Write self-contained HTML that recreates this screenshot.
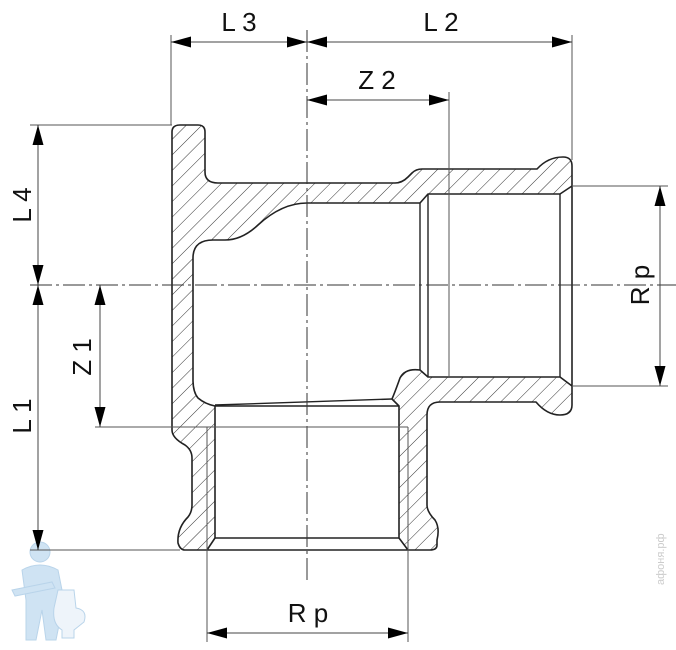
<!DOCTYPE html>
<html><head><meta charset="utf-8"><style>
html,body{margin:0;padding:0;background:#fff;}
svg{display:block;}
text{font-family:"Liberation Sans",sans-serif;font-size:26px;fill:#111;}
</style></head><body>
<svg width="676" height="650" viewBox="0 0 676 650" xmlns="http://www.w3.org/2000/svg">
<defs>
<pattern id="h" patternUnits="userSpaceOnUse" width="11" height="11" patternTransform="rotate(45)">
<line x1="0" y1="0" x2="0" y2="11" stroke="#333" stroke-width="1"/>
</pattern>
<marker id="a" viewBox="0 0 20 11" refX="20" refY="5.5" markerWidth="20" markerHeight="11" markerUnits="userSpaceOnUse" orient="auto-start-reverse">
<path d="M0,0 L20,5.5 L0,11 Z" fill="#000"/>
</marker>
</defs>

<g fill="#cfe3f3" stroke="#b9d4ea" stroke-width="1">
<circle cx="40" cy="552" r="10"/>
<path d="M22,570 q18,-10 36,0 l6,30 l-8,40 h-10 l-4,-30 l-6,30 h-10 l0,-40 z"/>
<path d="M12,590 l40,-8 l3,6 l-40,8 z"/>
<path d="M58,590 h16 l2,18 q12,2 8,14 l-10,8 v8 h-12 v-8 q-10,-6 -8,-22 z" fill="#eef4fa"/>
</g>
<text x="0" y="0" transform="translate(664,585) rotate(-90)" style="font-size:11px;fill:#ccc">афоня.рф</text>

<path fill-rule="evenodd" fill="url(#h)" stroke="#222" stroke-width="1.6" stroke-linejoin="round" d="
M180,125 L198,125 Q205,125 205,132 L205,172 Q205,183 218,183 L395,183 Q402,183 408,177 L412,173 Q416,169 422,169 L537,169 Q548,157 563,157 Q572,157 572,166 L572,405 Q572,415 560,415 Q547,415 536,402 L440,402 Q427,402 427,415 L427,505 Q427,512 435,520 Q440,528 437,540 L437,545 Q437,550 430,550 L185,550 Q180,550 178,543 Q177,528 188,517 Q192,512 192,505 L192,458 Q192,450 185,445 Q172,438 172,430 L172,132 Q172,125 180,125 Z
M307,203 L420,203 L428,194 L560,194 L572,186 L572,386 L560,377 L428,377 L420,370 Q405,368 400,378 Q395,392 392,399 L399,406 L399,538 L408,550 L207,550 L215,538 L215,406 Q205,404 198,398 Q193,392 193,380 L193,258 Q193,240 213,240 L225,240 Q242,240 258,225 Q282,203 307,203 Z"/>
<g stroke="#222" stroke-width="1.4" fill="none">
<line x1="420" y1="203" x2="420" y2="370"/>
<line x1="428" y1="194" x2="428" y2="377"/>
<line x1="560" y1="194" x2="560" y2="377"/>
<line x1="215" y1="406" x2="399" y2="406"/>
<line x1="215" y1="538" x2="399" y2="538"/>
<line x1="215" y1="405" x2="392" y2="399"/>
</g>

<g stroke="#333" stroke-width="1" stroke-dasharray="22,4,3,4">
<line x1="307" y1="30" x2="307" y2="580"/>
<line x1="30" y1="285" x2="676" y2="285"/>
</g>

<g stroke="#555" stroke-width="1">
<line x1="171" y1="35" x2="171" y2="125"/>
<line x1="572" y1="35" x2="572" y2="160"/>
<line x1="449" y1="92" x2="449" y2="377"/>
<line x1="30" y1="125" x2="172" y2="125"/>
<line x1="30" y1="550" x2="180" y2="550"/>
<line x1="95" y1="427" x2="408" y2="427"/>
<line x1="207" y1="427" x2="207" y2="642"/>
<line x1="408" y1="427" x2="408" y2="642"/>
<line x1="572" y1="186" x2="668" y2="186"/>
<line x1="572" y1="386" x2="668" y2="386"/>
</g>

<g stroke="#444" stroke-width="1" marker-start="url(#a)" marker-end="url(#a)">
<line x1="171" y1="42" x2="307" y2="42"/>
<line x1="307" y1="42" x2="572" y2="42"/>
<line x1="307" y1="100" x2="449" y2="100"/>
<line x1="38" y1="125" x2="38" y2="285"/>
<line x1="38" y1="285" x2="38" y2="550"/>
<line x1="100" y1="285" x2="100" y2="427"/>
<line x1="660" y1="186" x2="660" y2="386"/>
<line x1="207" y1="633" x2="408" y2="633"/>
</g>

<text x="239" y="31" text-anchor="middle">L 3</text>
<text x="441" y="31" text-anchor="middle">L 2</text>
<text x="377" y="89" text-anchor="middle">Z 2</text>
<text x="308" y="622" text-anchor="middle">R p</text>
<text transform="translate(31,205) rotate(-90)" text-anchor="middle">L 4</text>
<text transform="translate(31,416) rotate(-90)" text-anchor="middle">L 1</text>
<text transform="translate(91,357) rotate(-90)" text-anchor="middle">Z 1</text>
<text transform="translate(649,285) rotate(-90)" text-anchor="middle">R p</text>
</svg>
</body></html>
